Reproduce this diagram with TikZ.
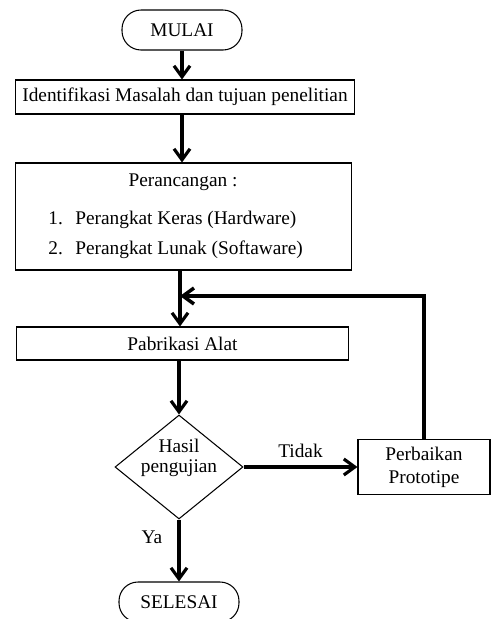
\documentclass[tikz,border=0pt]{standalone}
\usepackage{fontspec}
\setmainfont{Liberation Serif}
\usetikzlibrary{shapes.geometric,arrows.meta}
\begin{document}
\begin{tikzpicture}[x=0.02cm,y=-0.02cm,font=\fontsize{11}{13}\selectfont,
	kotak/.style={draw,line width=0.6pt,rectangle,inner sep=0pt},
	terminal/.style={draw,line width=0.6pt,rounded corners=0.38cm,minimum width=2.4cm,minimum height=0.8cm},
	panah/.style={line width=1.8pt,-{Straight Barb[length=2.2mm,width=3.2mm]}}]
		\path[use as bounding box,clip] (0,0) rectangle (492,619);
		%alur utama
		\node[terminal] (mulai) at (182,30) {MULAI};
		\node[kotak,minimum width=6.8cm,minimum height=0.68cm] (identifikasi) at (185,97) {Identifikasi Masalah dan tujuan penelitian};
		\node[kotak,minimum width=6.74cm,minimum height=2.14cm] (rancang) at (183.5,216.5) {};
		\node (judul) at (183,182) {Perancangan :};
		\node[anchor=west,inner sep=0] (hw) at (48,220) {\makebox[0.54cm][l]{1.}Perangkat Keras (Hardware)};
		\node[anchor=west,inner sep=0] (sw) at (48,250) {\makebox[0.54cm][l]{2.}Perangkat Lunak (Softaware)};
		\node[kotak,minimum width=6.66cm,minimum height=0.66cm] (pabrik) at (182.5,343.5) {Pabrikasi Alat};
		\node[draw,line width=0.6pt,diamond,inner sep=0,minimum width=2.56cm,minimum height=2.08cm] (uji) at (179,467) {};
		\node[align=center] (ujiteks) at (179,458) {Hasil\\[-2pt]pengujian};
		\node[kotak,minimum width=2.64cm,minimum height=1.1cm,align=center] (perbaik) at (424,467) {Perbaikan\\Prototipe};
		\node[terminal] (selesai) at (179,602) {SELESAI};
		\coordinate (gabung) at (180,296);
		%panah
		\draw[panah] (mulai) -- (mulai |- identifikasi.north);
		\draw[panah] (identifikasi.south -| mulai) -- (mulai |- rancang.north);
		\draw[panah] (rancang.south -| gabung) -- (gabung |- pabrik.north);
		\draw[panah] (pabrik.south -| uji) -- (uji);
		\draw[panah] (uji) -- (perbaik) node[midway,above=1pt] {Tidak};
		\draw[panah,line width=2pt] (perbaik.north) |- (gabung);
		\draw[panah] (uji) -- (selesai);
		\node (ya) at (152,537) {Ya};
\end{tikzpicture}
\end{document}
